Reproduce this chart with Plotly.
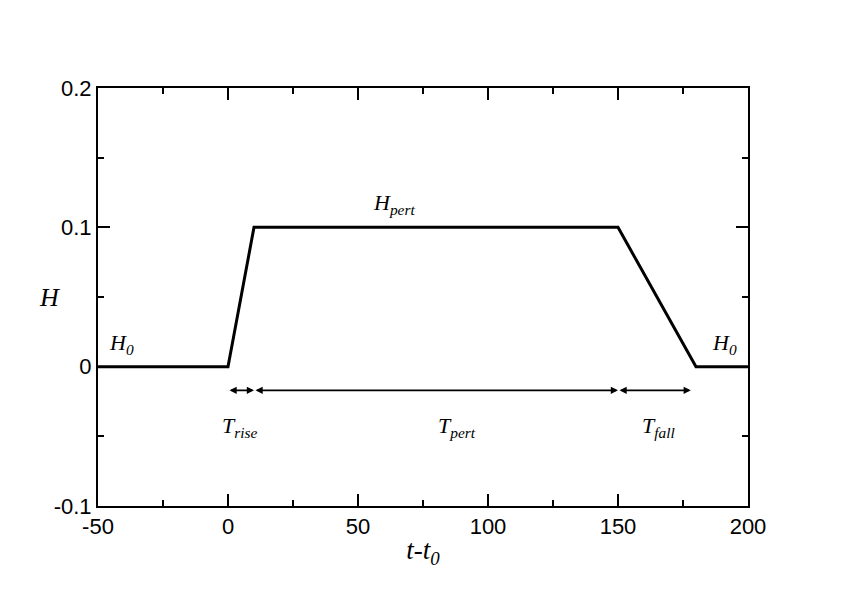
import plotly.graph_objects as go

# Data
t_vals = [-50, 0, 10, 150, 180, 200]
h_vals = [0, 0, 0.1, 0.1, 0, 0]

x_tick_vals = [-50, 0, 50, 100, 150, 200]
x_tick_text = ["-50", "0", "50", "100", "150", "200"]
y_tick_vals = [-0.1, 0, 0.1, 0.2]
y_tick_text = ["-0.1", "0", "0.1", "0.2"]

# interval arrows (start, end) at arrow level
arrow_level = -0.017
intervals = [(0, 10), (10, 150), (150, 178)]

# labels: (x, y, text)
labels = [
    (-41, 0.016, "<i>H<sub>0</sub></i>"),
    (191, 0.016, "<i>H<sub>0</sub></i>"),
    (64, 0.117, "<i>H<sub>pert</sub></i>"),
    (4.5, -0.043, "<i>T<sub>rise</sub></i>"),
    (88, -0.043, "<i>T<sub>pert</sub></i>"),
    (165.5, -0.043, "<i>T<sub>fall</sub></i>"),
]

serif = "Liberation Serif"
sans = "Liberation Sans"

fig = go.Figure()
fig.add_trace(go.Scatter(x=t_vals, y=h_vals, mode="lines",
                         line=dict(color="black", width=3), showlegend=False,
                         cliponaxis=False))

annotations = []
for a, b in intervals:
    annotations.append(dict(
        x=b, y=arrow_level, ax=a, ay=arrow_level,
        xref="x", yref="y", axref="x", ayref="y",
        text="", showarrow=True, arrowhead=2, arrowside="end+start",
        arrowsize=0.9, arrowwidth=1.6, arrowcolor="black"))
for x, y, txt in labels:
    annotations.append(dict(x=x, y=y, xref="x", yref="y", text=txt,
                            showarrow=False,
                            font=dict(family=serif, size=22, color="black")))
annotations.append(dict(x=-0.094, y=0.5, xref="paper", yref="paper",
                        text="<i>H</i>", showarrow=False,
                        font=dict(family=serif, size=26, color="black")))

axis_common = dict(showline=True, linecolor="black", linewidth=2, mirror="ticks",
                   ticks="inside", ticklen=12, tickwidth=2, tickcolor="black",
                   showgrid=False, zeroline=False,
                   tickfont=dict(family=sans, size=22, color="black"))

fig.update_layout(
    width=842, height=596,
    margin=dict(l=90, r=102, t=80, b=98),
    paper_bgcolor="white", plot_bgcolor="white",
    xaxis=dict(range=[-50, 200], tickvals=x_tick_vals, ticktext=x_tick_text,
               minor=dict(dtick=25, ticklen=6, tickwidth=2, ticks="inside",
                          tickcolor="black", showgrid=False),
               title=dict(text="<i>t-t<sub>0</sub></i>",
                          font=dict(family=serif, size=27, color="black"),
                          standoff=2),
               **axis_common),
    yaxis=dict(range=[-0.1, 0.2], tickvals=y_tick_vals, ticktext=y_tick_text,
               minor=dict(dtick=0.05, ticklen=6, tickwidth=2, ticks="inside",
                          tickcolor="black", showgrid=False),
               **axis_common),
    annotations=annotations,
)

fig.write_html("out.html")
